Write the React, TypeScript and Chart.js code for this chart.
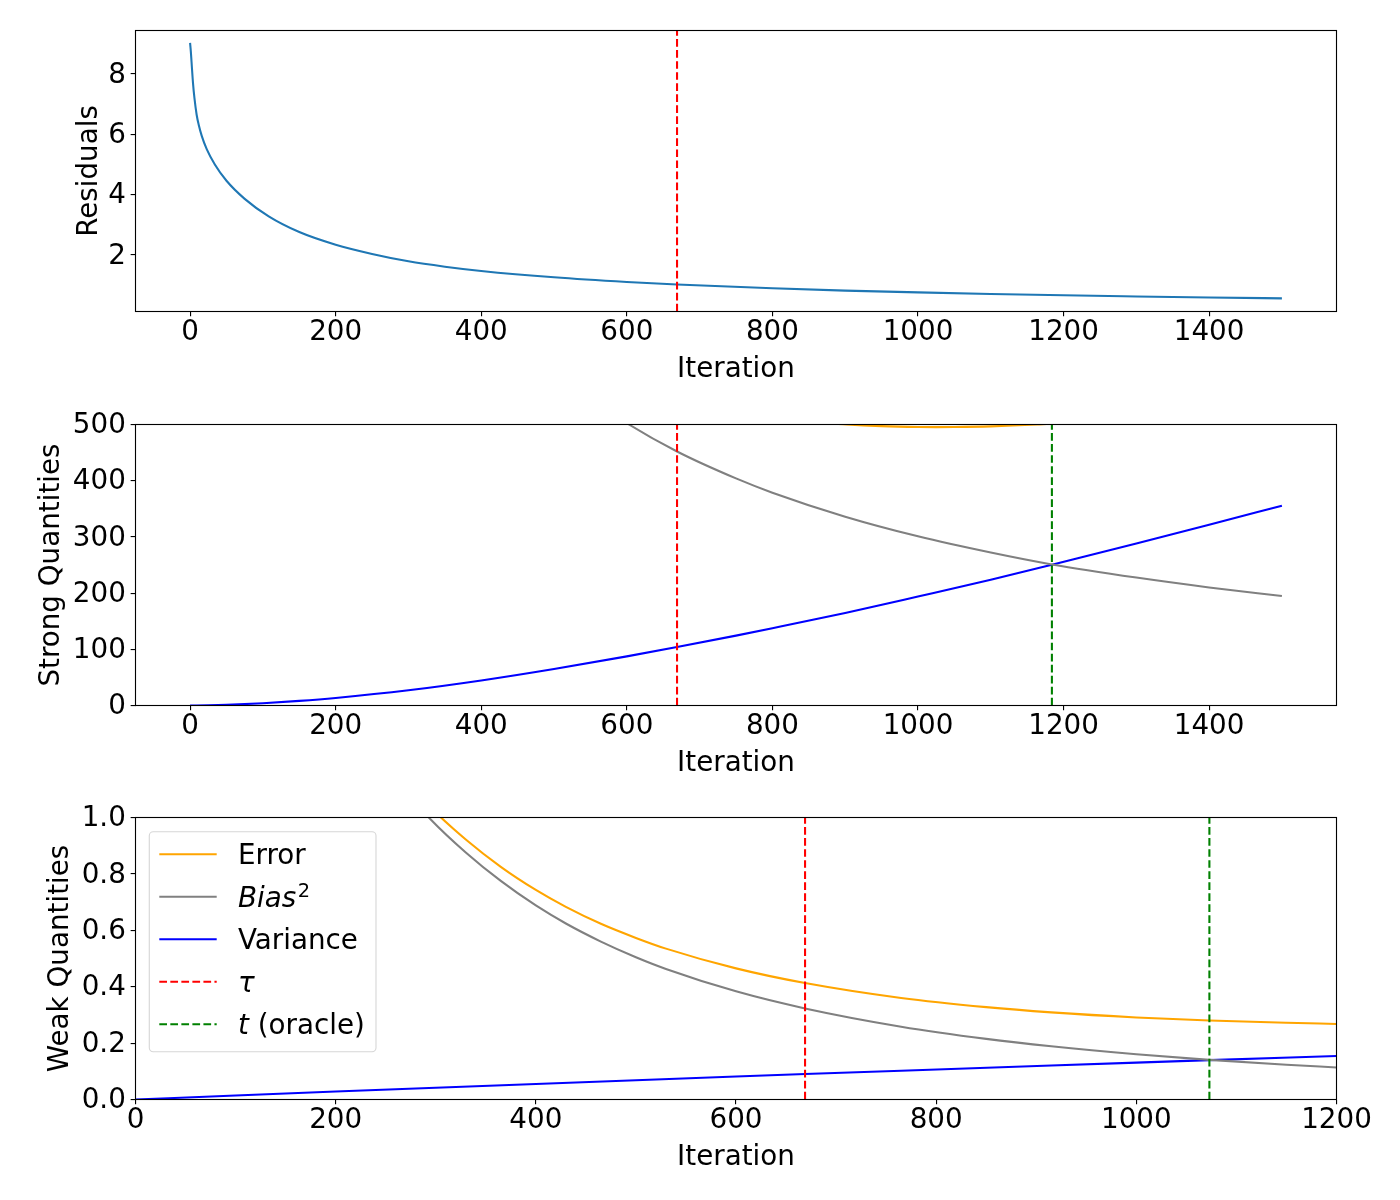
import React, { useEffect, useRef } from "react";
import { Chart, registerables } from "chart.js";
Chart.register(...registerables);

const FONT = '"DejaVu Sans", sans-serif';
const FS = 27.78;
const LW = 2.08;
const DASH = [7.7, 3.33];

// ---------- Panel 1: residuals ----------
const residualIter = [0, 1, 2, 4, 6, 9, 12, 16, 23, 34, 50, 75, 108, 150, 200, 250, 300, 350, 400, 500, 600, 669, 800, 900, 1000, 1100, 1200, 1300, 1400, 1500];
const residualVals = [9.03, 8.75, 8.4, 7.7, 7.2, 6.65, 6.3, 5.95, 5.5, 5.0, 4.46, 3.86, 3.28, 2.76, 2.34, 2.035, 1.79, 1.612, 1.47, 1.258, 1.103, 1.02, 0.894, 0.818, 0.758, 0.706, 0.662, 0.625, 0.591, 0.561];

// ---------- Panel 2: strong quantities ----------
const strongVarIter = [0, 25, 50, 100, 150, 200, 300, 400, 500, 600, 669, 750, 800, 900, 1000, 1100, 1184, 1300, 1400, 1500];
const strongVarVals = [0, 0.35, 1.18, 4.07, 8.17, 13.4, 27.0, 44.5, 64.9, 87.4, 104, 124.3, 137.5, 164.7, 193.9, 223.7, 250.5, 288.2, 321.6, 355.5];
const strongBiasIter = [550, 600, 669, 750, 800, 900, 1000, 1100, 1184, 1300, 1400, 1500];
const strongBiasVals = [546.5, 502.3, 452, 404.1, 378.7, 336.0, 301.1, 272.2, 251.0, 227.6, 210.1, 194.9];
const strongErrIter = [600, 669, 750, 800, 850, 902, 950, 1000, 1025, 1050, 1100, 1164, 1200, 1300, 1400, 1500];
const strongErrVals = [590, 556, 528.5, 514, 505, 500, 497.1, 495.6, 495.4, 495.55, 496.7, 500, 502.7, 515.5, 531.5, 550.4];

// ---------- Panel 3: weak quantities ----------
const weakErrIter = [260, 295, 330, 365, 400, 430, 465, 500, 530, 600, 669, 765, 850, 915, 1000, 1073, 1150, 1200];
const weakErrVals = [1.171, 1.035, 0.922, 0.825, 0.743, 0.683, 0.623, 0.573, 0.535, 0.465, 0.413, 0.36, 0.3275, 0.309, 0.291, 0.28, 0.272, 0.268];
const weakBiasIter = [260, 295, 330, 365, 400, 430, 465, 500, 530, 600, 669, 765, 850, 915, 1000, 1073, 1150, 1200];
const weakBiasVals = [1.134, 0.993, 0.876, 0.775, 0.688, 0.624, 0.56, 0.5045, 0.463, 0.3836, 0.323, 0.2582, 0.2149, 0.1886, 0.1604, 0.1406, 0.1233, 0.1136];
const weakVarIter = [0, 100, 200, 300, 400, 500, 600, 669, 765, 915, 1000, 1073, 1200];
const weakVarVals = [0, 0.0142, 0.0282, 0.0418, 0.0552, 0.0684, 0.0814, 0.0902, 0.1022, 0.1206, 0.1309, 0.1396, 0.1545];

// stopping times
const tauIter = 669;
const oracleStrongIter = 1184;
const oracleWeakIter = 1073;

// ticks
const xTicksLong = [0, 200, 400, 600, 800, 1000, 1200, 1400];
const xTicksWeak = [0, 200, 400, 600, 800, 1000, 1200];
const yTicksResid = [2, 4, 6, 8];
const yTicksStrong = [0, 100, 200, 300, 400, 500];
const yTicksWeak = [0, 0.2, 0.4, 0.6, 0.8, 1.0];

const legendLabels = [
  { color: "orange", dashed: false, parts: [{ text: "Error" }] },
  { color: "gray", dashed: false, parts: [{ text: "Bias", italic: true }, { text: "2", size: 19.4, raise: 10, gap: 1.5 }] },
  { color: "blue", dashed: false, parts: [{ text: "Variance" }] },
  { color: "red", dashed: true, parts: [{ text: "τ", italic: true }] },
  { color: "green", dashed: true, parts: [{ text: "t", italic: true }, { text: " (oracle)" }] },
];

const pts = (xs: number[], ys: number[]) => xs.map((x, i) => ({ x, y: ys[i] }));

const ds = (xs: number[], ys: number[], color: string) => ({
  data: pts(xs, ys),
  borderColor: color,
  backgroundColor: color,
  borderWidth: LW,
  pointRadius: 0,
  fill: false,
  cubicInterpolationMode: "monotone",
  clip: 0,
});

const framePlugin = {
  id: "frame",
  afterDatasetsDraw(chart: any, _args: any, opts: any) {
    const { ctx, chartArea: a, scales } = chart;
    (opts.vlines || []).forEach((v: any) => {
      const x = scales.x.getPixelForValue(v.value);
      ctx.save();
      ctx.strokeStyle = v.color;
      ctx.lineWidth = LW;
      ctx.setLineDash(DASH);
      ctx.beginPath();
      ctx.moveTo(x, a.bottom);
      ctx.lineTo(x, a.top);
      ctx.stroke();
      ctx.restore();
    });
  },
  afterDraw(chart: any, _args: any, opts: any) {
    const { ctx, chartArea: a } = chart;
    ctx.save();
    ctx.strokeStyle = "#000";
    ctx.lineWidth = 1.11;
    ctx.strokeRect(a.left, a.top, a.right - a.left, a.bottom - a.top);
    ctx.restore();
    if (opts.legend) {
      ctx.save();
      const bx = a.left + 13.8, by = a.top + 14.2, bw = 226.7, bh = 220;
      ctx.beginPath();
      ctx.roundRect(bx, by, bw, bh, 4);
      ctx.fillStyle = "rgba(255,255,255,0.8)";
      ctx.fill();
      ctx.strokeStyle = "rgba(204,204,204,0.8)";
      ctx.lineWidth = 1.11;
      ctx.stroke();
      legendLabels.forEach((it, i) => {
        const cy = a.top + 36.8 + i * 42.5;
        ctx.beginPath();
        ctx.setLineDash(it.dashed ? DASH : []);
        ctx.strokeStyle = it.color;
        ctx.lineWidth = LW;
        ctx.moveTo(a.left + 23.8, cy);
        ctx.lineTo(a.left + 81.2, cy);
        ctx.stroke();
        ctx.setLineDash([]);
        let x = a.left + 102.5;
        const base = cy + 10;
        ctx.fillStyle = "#000";
        ctx.textBaseline = "alphabetic";
        ctx.textAlign = "left";
        for (const p of it.parts as any[]) {
          x += p.gap || 0;
          ctx.font = `${p.italic ? "italic " : ""}${p.size || FS}px ${FONT}`;
          ctx.fillText(p.text, x, base - (p.raise || 0));
          x += ctx.measureText(p.text).width;
        }
      });
      ctx.restore();
    }
  },
};

const X_AXIS_H = 74.7;

function makeConfig(p: any) {
  return {
    type: "line",
    data: { datasets: p.datasets },
    plugins: [framePlugin],
    options: {
      responsive: false,
      animation: false,
      devicePixelRatio: 1,
      layout: { padding: { left: 0, right: 63.5, top: 30.5, bottom: p.padBottom } },
      plugins: {
        legend: { display: false },
        tooltip: { enabled: false },
        frame: { vlines: p.vlines, legend: p.legend },
      },
      scales: {
        x: {
          type: "linear",
          min: p.xmin,
          max: p.xmax,
          afterBuildTicks: (s: any) => {
            s.ticks = p.xticks.map((v: number) => ({ value: v }));
          },
          afterFit: (s: any) => {
            s.height = X_AXIS_H;
          },
          grid: { drawOnChartArea: false, drawTicks: true, tickLength: 4.86, color: "#000", lineWidth: 1.11 },
          border: { display: false },
          ticks: {
            color: "#000",
            font: { family: FONT, size: FS },
            padding: 0,
            maxRotation: 0,
            minRotation: 0,
            autoSkip: false,
            callback: (v: any) => String(v),
          },
          title: { display: true, text: "Iteration", color: "#000", font: { family: FONT, size: FS }, padding: 0 },
        },
        y: {
          type: "linear",
          min: p.ymin,
          max: p.ymax,
          afterBuildTicks: (s: any) => {
            s.ticks = p.yticks.map((v: number) => ({ value: v }));
          },
          afterFit: (s: any) => {
            s.width = 135.5;
          },
          grid: { drawOnChartArea: false, drawTicks: true, tickLength: 4.86, color: "#000", lineWidth: 1.11 },
          border: { display: false },
          ticks: {
            color: "#000",
            font: { family: FONT, size: FS },
            padding: 4.8,
            labelOffset: 1.5,
            autoSkip: false,
            callback: p.yfmt,
          },
          title: {
            display: true,
            text: p.ylabel,
            color: "#000",
            font: { family: FONT, size: FS },
            padding: { top: p.ytitlePad, bottom: 0 },
          },
        },
      },
    },
  };
}

export default function App() {
  const r1 = useRef<HTMLCanvasElement>(null);
  const r2 = useRef<HTMLCanvasElement>(null);
  const r3 = useRef<HTMLCanvasElement>(null);

  useEffect(() => {
    const c1 = new Chart(
      r1.current as any,
      makeConfig({
        datasets: [ds(residualIter, residualVals, "#1f77b4")],
        xmin: -75, xmax: 1575, xticks: xTicksLong,
        ymin: 0.125, ymax: 9.443, yticks: yTicksResid,
        yfmt: (v: any) => String(v),
        ylabel: "Residuals", ytitlePad: 73.0, padBottom: 394 - 311.5 - X_AXIS_H,
        vlines: [{ value: tauIter, color: "red" }],
        legend: false,
      }) as any
    );
    const c2 = new Chart(
      r2.current as any,
      makeConfig({
        datasets: [
          ds(strongErrIter, strongErrVals, "orange"),
          ds(strongBiasIter, strongBiasVals, "gray"),
          ds(strongVarIter, strongVarVals, "blue"),
        ],
        xmin: -75, xmax: 1575, xticks: xTicksLong,
        ymin: 0, ymax: 500, yticks: yTicksStrong,
        yfmt: (v: any) => String(v),
        ylabel: "Strong Quantities", ytitlePad: 35.0, padBottom: 394 - 311.5 - X_AXIS_H,
        vlines: [{ value: tauIter, color: "red" }, { value: oracleStrongIter, color: "green" }],
        legend: false,
      }) as any
    );
    const c3 = new Chart(
      r3.current as any,
      makeConfig({
        datasets: [
          ds(weakErrIter, weakErrVals, "orange"),
          ds(weakBiasIter, weakBiasVals, "gray"),
          ds(weakVarIter, weakVarVals, "blue"),
        ],
        xmin: 0, xmax: 1200, xticks: xTicksWeak,
        ymin: 0, ymax: 1, yticks: yTicksWeak,
        yfmt: (v: any) => Number(v).toFixed(1),
        ylabel: "Weak Quantities", ytitlePad: 43.8, padBottom: 413 - 312.5 - X_AXIS_H,
        vlines: [{ value: tauIter, color: "red" }, { value: oracleWeakIter, color: "green" }],
        legend: true,
      }) as any
    );
    return () => {
      c1.destroy();
      c2.destroy();
      c3.destroy();
    };
  }, []);

  return (
    <div style={{ position: "absolute", left: 0, top: 0, width: 1400, height: 1200, background: "#fff" }}>
      <canvas ref={r1} width={1400} height={394} style={{ position: "absolute", left: 0, top: 0, width: 1400, height: 394 }} />
      <canvas ref={r2} width={1400} height={394} style={{ position: "absolute", left: 0, top: 394, width: 1400, height: 394 }} />
      <canvas ref={r3} width={1400} height={413} style={{ position: "absolute", left: 0, top: 787, width: 1400, height: 413 }} />
    </div>
  );
}
